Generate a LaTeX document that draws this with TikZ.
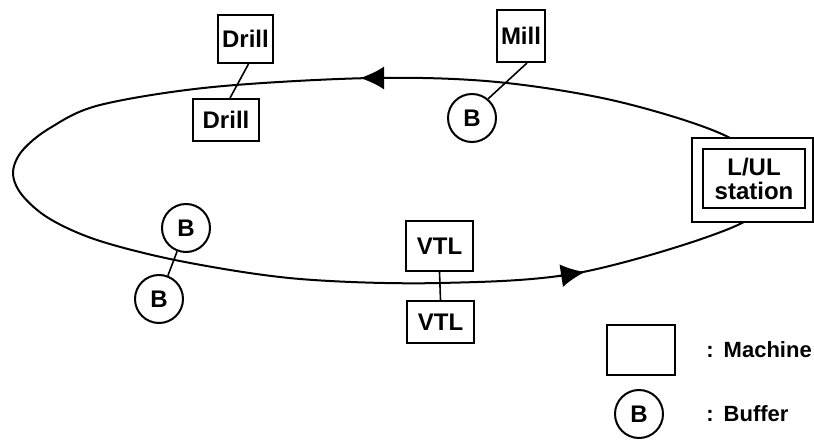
\documentclass[tikz,border=0pt]{standalone}
\usepackage{fontspec}
\setmainfont{Liberation Sans}
\usetikzlibrary{arrows.meta}
\begin{document}
\begin{tikzpicture}[x=0.5pt,y=-0.5pt,
  track/.style={line width=1pt, line join=round},
  box/.style={draw, line width=1pt, fill=white, inner sep=0pt,
    font=\fontsize{12}{12}\selectfont\bfseries, align=center},
  buf/.style={draw, circle, line width=1pt, fill=white, inner sep=0pt,
    minimum size=24pt, font=\fontsize{12}{12}\selectfont\bfseries},
  link/.style={line width=0.8pt},
  legtext/.style={anchor=west, inner sep=0pt, font=\fontsize{11}{12}\selectfont\bfseries},
  dirtip/.style={-{Latex[length=12pt,width=11.5pt]}, line width=1pt}]
\useasboundingbox (0,0) rectangle (814,443);

% transport loop
\draw[track] plot[smooth cycle, tension=0.55] coordinates {
  (742,223) (583,272) (440,283) (300,279) (185,262)
  (100,241) (50,219) (22,195) (13,173) (22,151) (50,128) (100,105) (213,87)
  (372,78) (497,82) (620,102) (730,138) (765,180)};

% direction of travel
\coordinate (topA) at (385,78);
\coordinate (topB) at (360,78);
\coordinate (botA) at (559,276);
\coordinate (botB) at (585,272);
\draw[dirtip] (topA) -- (topB);
\draw[dirtip] (botA) -- (botB);

% machines
\node[box, minimum width=27.5pt, minimum height=24pt] (drillA) at (245.5,39) {Drill};
\node[box, minimum width=33pt, minimum height=21pt] (drillB) at (226,120) {Drill};
\node[box, minimum width=24pt, minimum height=26pt] (mill) at (521,36) {Mill};
\node[box, minimum width=33.5pt, minimum height=25pt] (vtlA) at (439.5,246) {VTL};
\node[box, minimum width=33.5pt, minimum height=21pt] (vtlB) at (440.5,322) {VTL};

% load / unload station
\node[box, minimum width=60.5pt, minimum height=42pt] (luOuter) at (752.5,180) {};
\node[box, minimum width=51pt, minimum height=29.5pt] (luInner) at (754,178.5) {L/UL\\station};

% buffers
\node[buf] (bMill) at (472,118) {B};
\node[buf] (bA) at (186,228) {B};
\node[buf] (bB) at (159,299) {B};

% links between stations
\draw[link] ([xshift=1.5pt]drillA.south) -- ([xshift=2pt]drillB.north);
\draw[link] ([xshift=3pt]mill.south) -- (bMill.50);
\draw[link] (vtlA.south) -- (vtlB.north);
\draw[link] (bA) -- (bB);

% legend
\node[box, minimum width=34pt, minimum height=25pt] (legBox) at (641,350) {};
\node[buf] (legBuf) at (639,414) {B};
\node[legtext] (legM) at (706,350) {:\hspace{5pt}Machine};
\node[legtext] (legB) at (706,414) {:\hspace{5pt}Buffer};
\end{tikzpicture}
\end{document}
